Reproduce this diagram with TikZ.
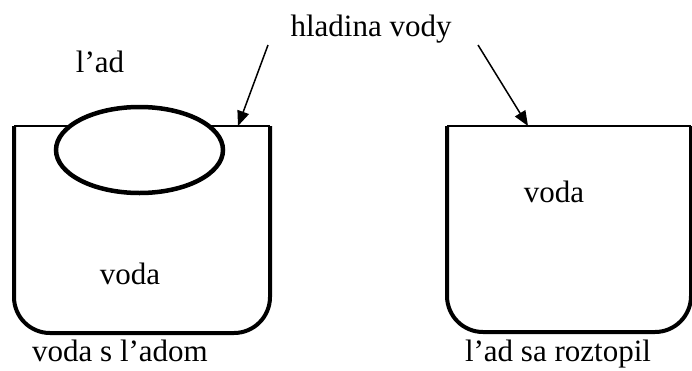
\documentclass[tikz,border=0pt]{standalone}
\usepackage{fontspec}
\setmainfont{Liberation Serif}
\usetikzlibrary{arrows.meta,shapes.geometric}
\begin{document}
\begin{tikzpicture}[x=1pt,y=-1pt,
  lbl/.style={anchor=base,inner sep=0pt,font=\fontsize{31}{37}\selectfont},
  wall/.style={line width=4pt,rounded corners=36pt},
  surface/.style={line width=1.5pt},
  pointer/.style={line width=1.5pt,-{Triangle[length=15pt,width=12pt]}},
  ice/.style={line width=4.5pt,fill=white}]
\useasboundingbox (0,0) rectangle (692,370);
% left container
\coordinate (l1) at (14,126);
\coordinate (l2) at (270,126);
\draw[surface] (l1) -- (l2);
\draw[wall] (l1) -- (14,333) -- (270,333) -- (l2);
\node[ice,draw,ellipse,minimum width=167pt,minimum height=86pt,inner sep=0pt] (ice) at (139.5,150) {};
% right container
\coordinate (r1) at (447,126);
\coordinate (r2) at (691,126);
\draw[surface] (r1) -- (r2);
\draw[wall] (r1) -- (447,332) -- (691,332) -- (r2);
% labels
\node[lbl] (hl) at (371,36) {hladina vody};
\node[lbl] (lad) at (100,72) {l’ad};
\node[lbl] (v1) at (130,284) {voda};
\node[lbl] (v2) at (554,202) {voda};
\node[lbl] (c1) at (120,361) {voda s l’adom};
\node[lbl] (c2) at (558,361) {l’ad sa roztopil};
% arrows
\coordinate (a1s) at (268,45);
\coordinate (a1e) at (238,126);
\coordinate (a2s) at (478,45);
\coordinate (a2e) at (528,126);
\draw[pointer] (a1s) -- (a1e);
\draw[pointer] (a2s) -- (a2e);
\end{tikzpicture}
\end{document}
